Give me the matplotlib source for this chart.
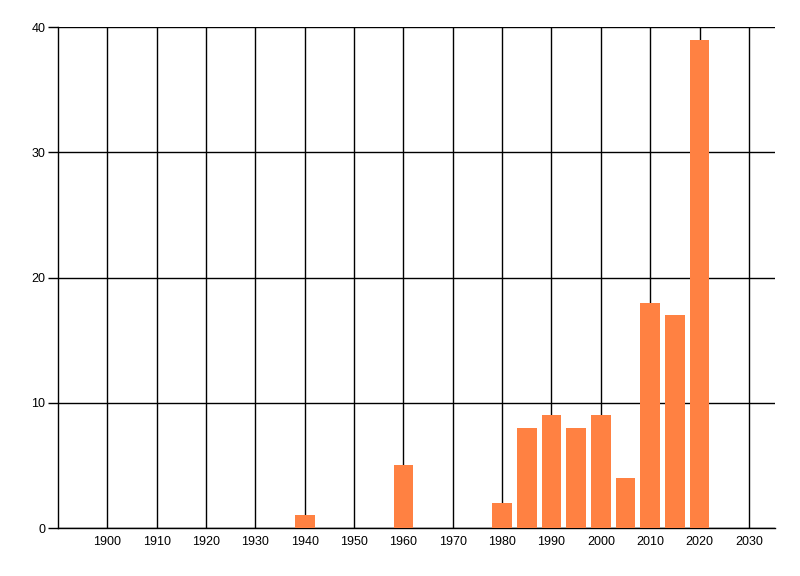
import matplotlib
matplotlib.use("Agg")
import matplotlib.pyplot as plt

# counts per 5-year bin
years = [1940, 1960, 1980, 1985, 1990, 1995, 2000, 2005, 2010, 2015, 2020]
counts = [1, 5, 2, 8, 9, 8, 9, 4, 18, 17, 39]
x_ticks = list(range(1900, 2031, 10))
y_ticks = [0, 10, 20, 30, 40]

plt.rcParams['font.family'] = ['Liberation Sans', 'DejaVu Sans']

fig = plt.figure(figsize=(8, 5.76), dpi=100)
ax = fig.add_axes([0.0725, 0.0833, 0.8963, 0.8698])

ax.bar(years, counts, width=4, color='#FF8142', zorder=3)

ax.set_xlim(1890, 2035.3)
ax.set_ylim(0, 40)
ax.set_xticks(x_ticks)
ax.set_yticks(y_ticks)

ax.grid(True, color='black', linewidth=1.0, zorder=1)
ax.set_axisbelow(True)
# baseline sits on the axes edge, keep it unclipped
ax.axhline(0, color='black', linewidth=1.0, clip_on=False, zorder=2)

for side in ['top', 'right', 'bottom']:
    ax.spines[side].set_visible(False)
ax.spines['left'].set_color('black')
ax.spines['left'].set_linewidth(1.0)

ax.tick_params(axis='x', length=0, pad=6, labelsize=9)
ax.tick_params(axis='y', length=7.5, width=1.0, pad=1.5, labelsize=9)

fig.savefig('out.png', dpi=100)
